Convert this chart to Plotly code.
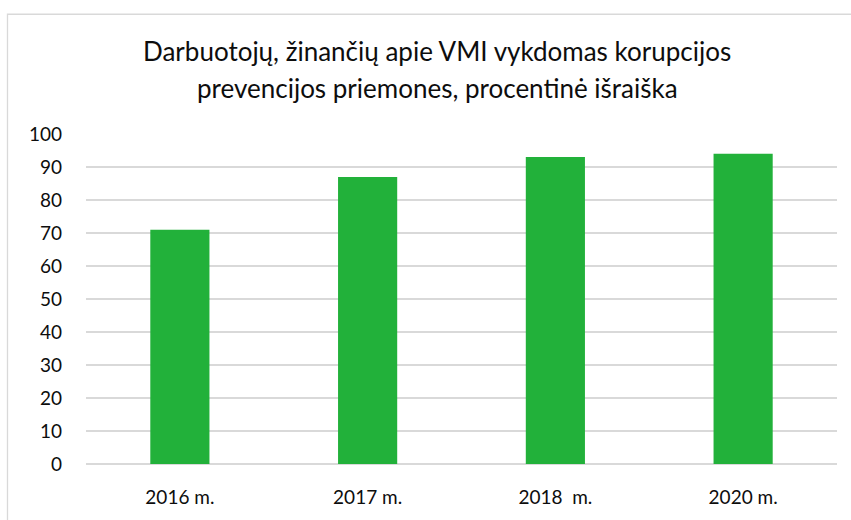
import plotly.graph_objects as go

categories = ["2016 m.", "2017 m.", "2018  m.", "2020 m."]
values = [71, 87, 93, 94]
title_lines = ["Darbuotojų, žinančių apie VMI vykdomas korupcijos",
               "prevencijos priemones, procentinė išraiška"]

W, H = 851, 520
L, R, T, B = 86, 14, 134, 54
pw, ph = W - L - R, H - T - B

def px_to_paper_x(px):
    return (px - L) / pw

def px_to_paper_y(py):
    return (H - B - py) / ph

FONT = "Lato"
TEXT = "#0D0D0D"

fig = go.Figure(go.Bar(
    x=categories, y=values,
    marker=dict(color="#22B13A", line=dict(width=0)),
    width=0.315,
))

annotations = []
for i, line in enumerate(title_lines):
    annotations.append(dict(
        text=line, xref="paper", yref="paper",
        x=px_to_paper_x(437), y=px_to_paper_y(50 + 38 * i),
        xanchor="center", yanchor="middle", showarrow=False,
        font=dict(family=FONT, size=26, color=TEXT),
    ))

fig.update_layout(
    width=W, height=H,
    margin=dict(l=L, r=R, t=T, b=B, pad=0),
    paper_bgcolor="white", plot_bgcolor="white",
    showlegend=False,
    annotations=annotations,
    shapes=[dict(type="rect", xref="paper", yref="paper",
                 x0=px_to_paper_x(7.5), y0=px_to_paper_y(560),
                 x1=px_to_paper_x(900), y1=px_to_paper_y(13.5),
                 line=dict(color="#D9D9D9", width=1.3), fillcolor="rgba(0,0,0,0)",
                 layer="below")],
    xaxis=dict(
        showgrid=False, showline=False, zeroline=False,
        tickfont=dict(family=FONT, size=19, color=TEXT),
        ticks="", ticklabelstandoff=20,
    ),
    yaxis=dict(
        range=[0, 100], tickvals=list(range(0, 101, 10)),
        showgrid=True, gridcolor="#D9D9D9", gridwidth=1.5,
        zeroline=True, zerolinecolor="#D9D9D9", zerolinewidth=1.5,
        showline=False, ticks="",
        tickfont=dict(family=FONT, size=19, color=TEXT),
        ticklabelstandoff=23,
    ),
    bargap=0.685,
)

fig.write_html("out.html", config={"displayModeBar": False},
               post_script="document.body.style.margin='0';document.body.style.padding='0';")
